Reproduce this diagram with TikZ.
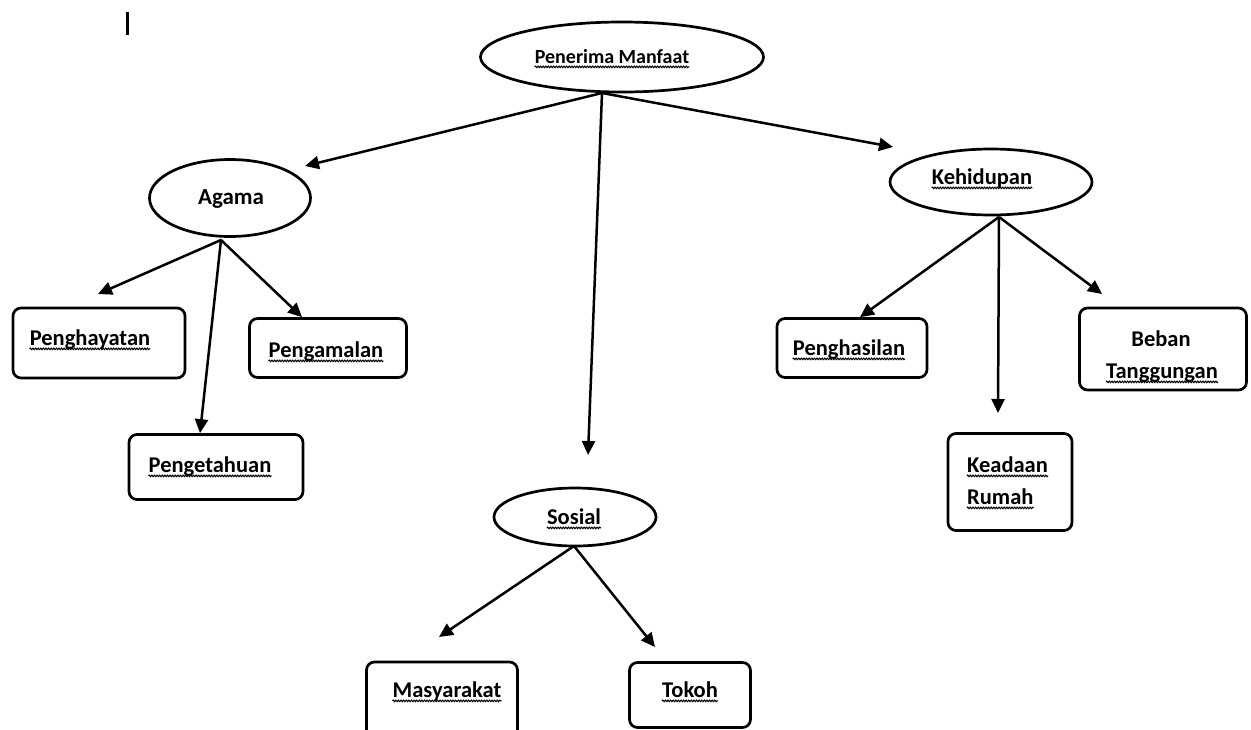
\documentclass[tikz,border=0pt]{standalone}
\usepackage{fontspec}
\setmainfont{Carlito}
\usetikzlibrary{arrows.meta,shapes.geometric,decorations.pathmorphing}
\begin{document}
\begin{tikzpicture}[x=1pt,y=-1pt,
  lbl/.style={font=\fontsize{22.5}{26}\selectfont\bfseries, inner sep=0pt, anchor=mid},
  oval/.style={draw, ellipse, line width=2.7pt, inner sep=0pt},
  box/.style={draw, line width=2.7pt, rounded corners=8pt, inner sep=0pt},
  wave/.style={line width=1pt, decorate,
               decoration={snake, amplitude=0.8pt, segment length=2.6pt}},
  conn/.style={line width=2.5pt, -{Triangle[length=14pt,width=13pt]}}]
\useasboundingbox (0,0) rectangle (1251,729);
\clip (0,0) rectangle (1251,729);
\fill[white] (0,0) rectangle (1251,729);

% stray mark at the top left
\draw[line width=3pt] (127,12) -- (127,35);

% ovals
\node[oval, minimum width=283pt, minimum height=70pt] (pm)  at (622,57)  {};
\node[oval, minimum width=161pt, minimum height=77pt] (ag)  at (230,198) {};
\node[oval, minimum width=202pt, minimum height=66pt] (keh) at (991,182) {};
\node[oval, minimum width=162pt, minimum height=58pt] (sos) at (575,517) {};

% boxes
\node[box, minimum width=172pt, minimum height=70pt] (hay) at (99,343)  {};
\node[box, minimum width=157pt, minimum height=59pt] (aml) at (328,348) {};
\node[box, minimum width=174pt, minimum height=65pt] (tah) at (216,467) {};
\node[box, minimum width=150pt, minimum height=59pt] (has) at (852,348) {};
\node[box, minimum width=167pt, minimum height=82pt] (beb) at (1163,349) {};
\node[box, minimum width=124pt, minimum height=97pt] (kea) at (1010,482) {};
\node[box, minimum width=151pt, minimum height=78pt] (mas) at (442,701) {};
\node[box, minimum width=121pt, minimum height=65pt] (tok) at (690,695) {};

% labels
\node[lbl, font=\fontsize{20}{24}\selectfont\bfseries] (tpm) at (612,61) {Penerima Manfaat};
\node[lbl, font=\fontsize{23}{27}\selectfont\bfseries] (tag) at (231,202) {Agama};
\node[lbl] (tkeh) at (982,182) {Kehidupan};
\node[lbl] (tsos) at (574,522) {Sosial};
\node[lbl] (thay) at (90,343) {Penghayatan};
\node[lbl] (taml) at (326,355) {Pengamalan};
\node[lbl] (ttah) at (210,470) {Pengetahuan};
\node[lbl] (thas) at (849,353) {Penghasilan};
\node[lbl] (tbeb1) at (1161,344) {Beban};
\node[lbl] (tbeb2) at (1162,376) {Tanggungan};
\node[lbl, anchor=mid west] (tkea1) at (967,470) {Keadaan};
\node[lbl, anchor=mid west] (tkea2) at (967,502) {Rumah};
\node[lbl] (tmas) at (447,695) {Masyarakat};
\node[lbl] (ttok) at (690,695) {Tokoh};

% wavy proofing marks under the words
\foreach \t in {tpm,tkeh,tsos,thay,taml,ttah,thas,tbeb2,tkea1,tkea2,tmas,ttok}
  \draw[wave] ([yshift=-3.5pt]\t.base west) -- ([yshift=-3.5pt]\t.base east);

% arrow feet and free ends
\coordinate (pmfoot)  at (602,93);
\coordinate (agfoot)  at (221,240);
\coordinate (kehfoot) at (999,217);
\coordinate (sosfoot) at (574,546);
\coordinate (toag)  at (305,166);
\coordinate (tokeh) at (893,147);
\coordinate (tosos) at (588,455);
\coordinate (tohay) at (98,294);
\coordinate (tokea) at (998,413);
\coordinate (tobeb) at (1102,294);
\coordinate (tomas) at (439,637);
\coordinate (totok) at (655,647);

\draw[conn] (pmfoot) -- (toag);
\draw[conn] (pmfoot) -- (tokeh);
\draw[conn] (pmfoot) -- (tosos);

\draw[conn] (agfoot) -- (tohay);
\draw[conn] (agfoot) -- (tah.north -| 200,0);
\draw[conn] (agfoot) -- (aml.north -| 302,0);

\draw[conn] (kehfoot) -- (has.north -| 860,0);
\draw[conn] (kehfoot) -- (tokea);
\draw[conn] (kehfoot) -- (tobeb);

\draw[conn] (sosfoot) -- (tomas);
\draw[conn] (sosfoot) -- (totok);
\end{tikzpicture}
\end{document}
